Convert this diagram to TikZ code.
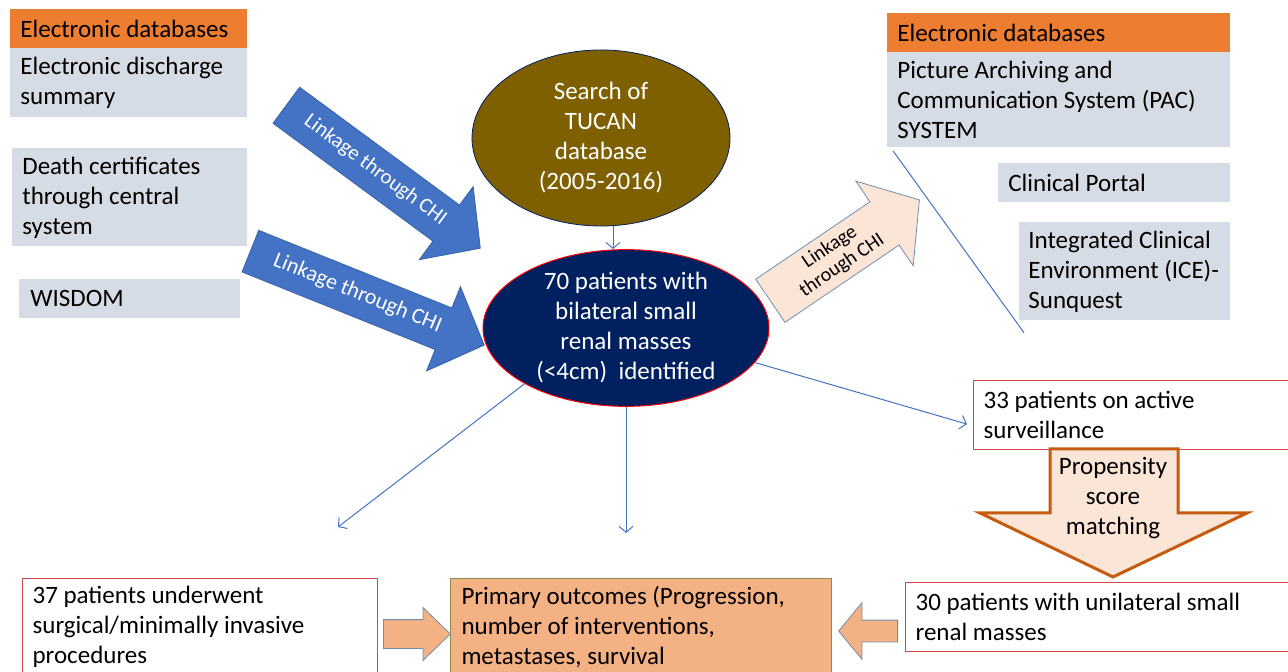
\documentclass[tikz,border=0pt]{standalone}
\usepackage{fontspec}
\setmainfont{Carlito}
\usetikzlibrary{shapes.geometric, shapes.arrows, positioning, arrows.meta}

\definecolor{hdrorange}{HTML}{ED7D31}
\definecolor{dbgray}{HTML}{D6DCE5}
\definecolor{linkblue}{HTML}{4472C4}
\definecolor{linkedge}{HTML}{3A62A8}
\definecolor{tucanbrown}{HTML}{7F6000}
\definecolor{cohortnavy}{HTML}{002060}
\definecolor{peachlight}{HTML}{FBE5D6}
\definecolor{peach}{HTML}{F4B183}
\definecolor{rustedge}{HTML}{C55A11}
\definecolor{steeledge}{HTML}{6F8FAF}
\definecolor{boxred}{HTML}{D0484C}
\definecolor{oliveedge}{HTML}{8C8C4A}

\begin{document}
\begin{tikzpicture}[
    x=0.5pt, y=-0.5pt,
    font=\fontsize{12.5}{15}\selectfont,
    hdrbox/.style={
        anchor=north west,
        fill=hdrorange,
        align=flush left,
        inner xsep=5pt,
        inner ysep=0pt
    },
    dbbox/.style={
        anchor=north west,
        fill=dbgray,
        align=flush left,
        inner xsep=5pt,
        inner ysep=0pt
    },
    cohortbox/.style={
        anchor=north west,
        draw=boxred,
        fill=white,
        line width=0.6pt,
        align=flush left,
        inner xsep=5pt,
        inner ysep=0pt
    },
    linkarrow/.style={
        single arrow,
        anchor=tail,
        fill=linkblue,
        draw=linkedge,
        line width=0.4pt,
        text=white,
        inner xsep=0pt,
        text height=7pt,
        text depth=2pt,
        inner ysep=6.5pt,
        single arrow head extend=11.5pt
    },
    peacharrow/.style={
        single arrow,
        anchor=tail,
        fill=peach,
        draw=steeledge,
        line width=0.4pt,
        inner sep=0pt
    },
    thinarr/.style={
        draw=linkblue,
        line width=0.5pt,
        -{Straight Barb[length=3pt,width=7pt]}
    }
]
    \useasboundingbox (0,0) rectangle (1288,672);
    \clip (0,0) rectangle (1288,672);

    % Left source databases
    \node[hdrbox, text width=108.5pt, minimum height=19.5pt] (lefthdr) at (10,9) {Electronic databases};
    \node[dbbox, text width=108.5pt, minimum height=34.5pt] (discharge) at (10,48) {Electronic discharge\\summary};
    \node[dbbox, text width=107.5pt, minimum height=49pt] (death) at (12,148) {Death certificates\\through central\\system};
    \node[dbbox, text width=99.5pt, minimum height=19.5pt, inner xsep=5.5pt] (wisdom) at (19,279) {WISDOM};

    % Right source databases
    \node[hdrbox, text width=161.5pt, minimum height=19.5pt] (righthdr) at (887,13) {Electronic databases};
    \node[dbbox, text width=161.5pt, minimum height=47.5pt] (pacs) at (887,52) {Picture Archiving and\\Communication System (PAC)\\SYSTEM};
    \node[dbbox, text width=106pt, minimum height=19.5pt] (portal) at (998,163) {Clinical Portal};
    \node[dbbox, text width=96.5pt, minimum height=49pt, inner xsep=4.5pt] (ice) at (1019,222) {Integrated Clinical\\Environment (ICE)-\\Sunquest};
    \draw[linkblue, line width=0.5pt] ([xshift=3pt,yshift=-1.5pt]pacs.south west) -- ([xshift=2.5pt,yshift=-6pt]ice.south west);

    % Central search and cohort
    \node[ellipse, fill=tucanbrown, draw=cohortnavy, line width=0.4pt, inner sep=0pt,
          minimum width=129pt, minimum height=88pt, text=white, align=center] (tucan) at (601,138)
          {Search of\\TUCAN\\database\\(2005-2016)};
    \node[ellipse, fill=cohortnavy, draw=red, line width=0.5pt, inner sep=0pt,
          minimum width=143pt, minimum height=76pt, text=white, align=center] (cohort) at (626,328)
          {70 patients with\\bilateral small\\renal masses\\(<4cm)~ identified};

    % Linkage arrows
    \node[linkarrow, rotate=-36.4, minimum height=120.5pt, single arrow tip angle=94,
          font=\fontsize{10.5}{12}\selectfont] (link1) at (286,105) {Linkage through CHI};
    \node[linkarrow, rotate=-21.9, minimum height=126pt, single arrow tip angle=92,
          font=\fontsize{11}{12}\selectfont] (link2) at (250,251) {Linkage through CHI};
    \node[peacharrow, fill=peachlight, rotate=34.1, minimum height=90pt, inner ysep=3pt,
          single arrow head extend=12.5pt, single arrow tip angle=101, align=center,
          font=\fontsize{10}{11}\selectfont] (link3) at (770,301) {Linkage\\through CHI};

    \draw[thinarr] ([xshift=6pt]tucan.south) -- ([xshift=6pt]tucan.south |- cohort.north);

    % Outcome groups
    \node[cohortbox, text width=155pt, minimum height=34.5pt] (surv) at (973,380) {33 patients on active\\surveillance};
    \node[cohortbox, text width=190pt, minimum height=34.5pt] (unilat) at (905,582) {30 patients with unilateral small\\renal masses};
    \node[cohortbox, text width=167.5pt, minimum height=48pt] (surg) at (22,578) {37 patients underwent\\surgical/minimally invasive\\procedures};
    \node[anchor=north west, fill=peach, draw=oliveedge, line width=0.5pt, align=flush left, inner xsep=5.5pt, inner ysep=0pt,
          text width=179.5pt, minimum height=48pt] (primary) at (450,578) {Primary outcomes (Progression,\\number of interventions,\\metastases, survival};

    \coordinate (surgend) at (338,527);
    \coordinate (primend) at (626,533);
    \draw[thinarr] (cohort.-15) -- ([xshift=-3pt,yshift=-4.5pt]surv.west);
    \draw[thinarr] (cohort.south west) -- (surgend);
    \draw[thinarr] (cohort.south) -- (primend);

    % Propensity score matching
    \draw[draw=rustedge, fill=peachlight, line width=1.5pt, line join=miter]
        (1050,449) -- (1178,449) -- (1178,513) -- (1247,513) -- (1113,577) -- (980,513) -- (1050,513) -- cycle;
    \node[align=center] (match) at (1113,498) {Propensity\\score\\matching};

    % Arrows into primary outcomes
    \node[peacharrow, minimum height=33.5pt, inner ysep=7pt, single arrow head extend=6pt,
          single arrow tip angle=88] (fromsurg) at (383,634) {};
    \node[peacharrow, rotate=180, minimum height=29.5pt, inner ysep=5.25pt, single arrow head extend=8.75pt,
          single arrow tip angle=101] (fromunilat) at (898,631) {};
\end{tikzpicture}
\end{document}
